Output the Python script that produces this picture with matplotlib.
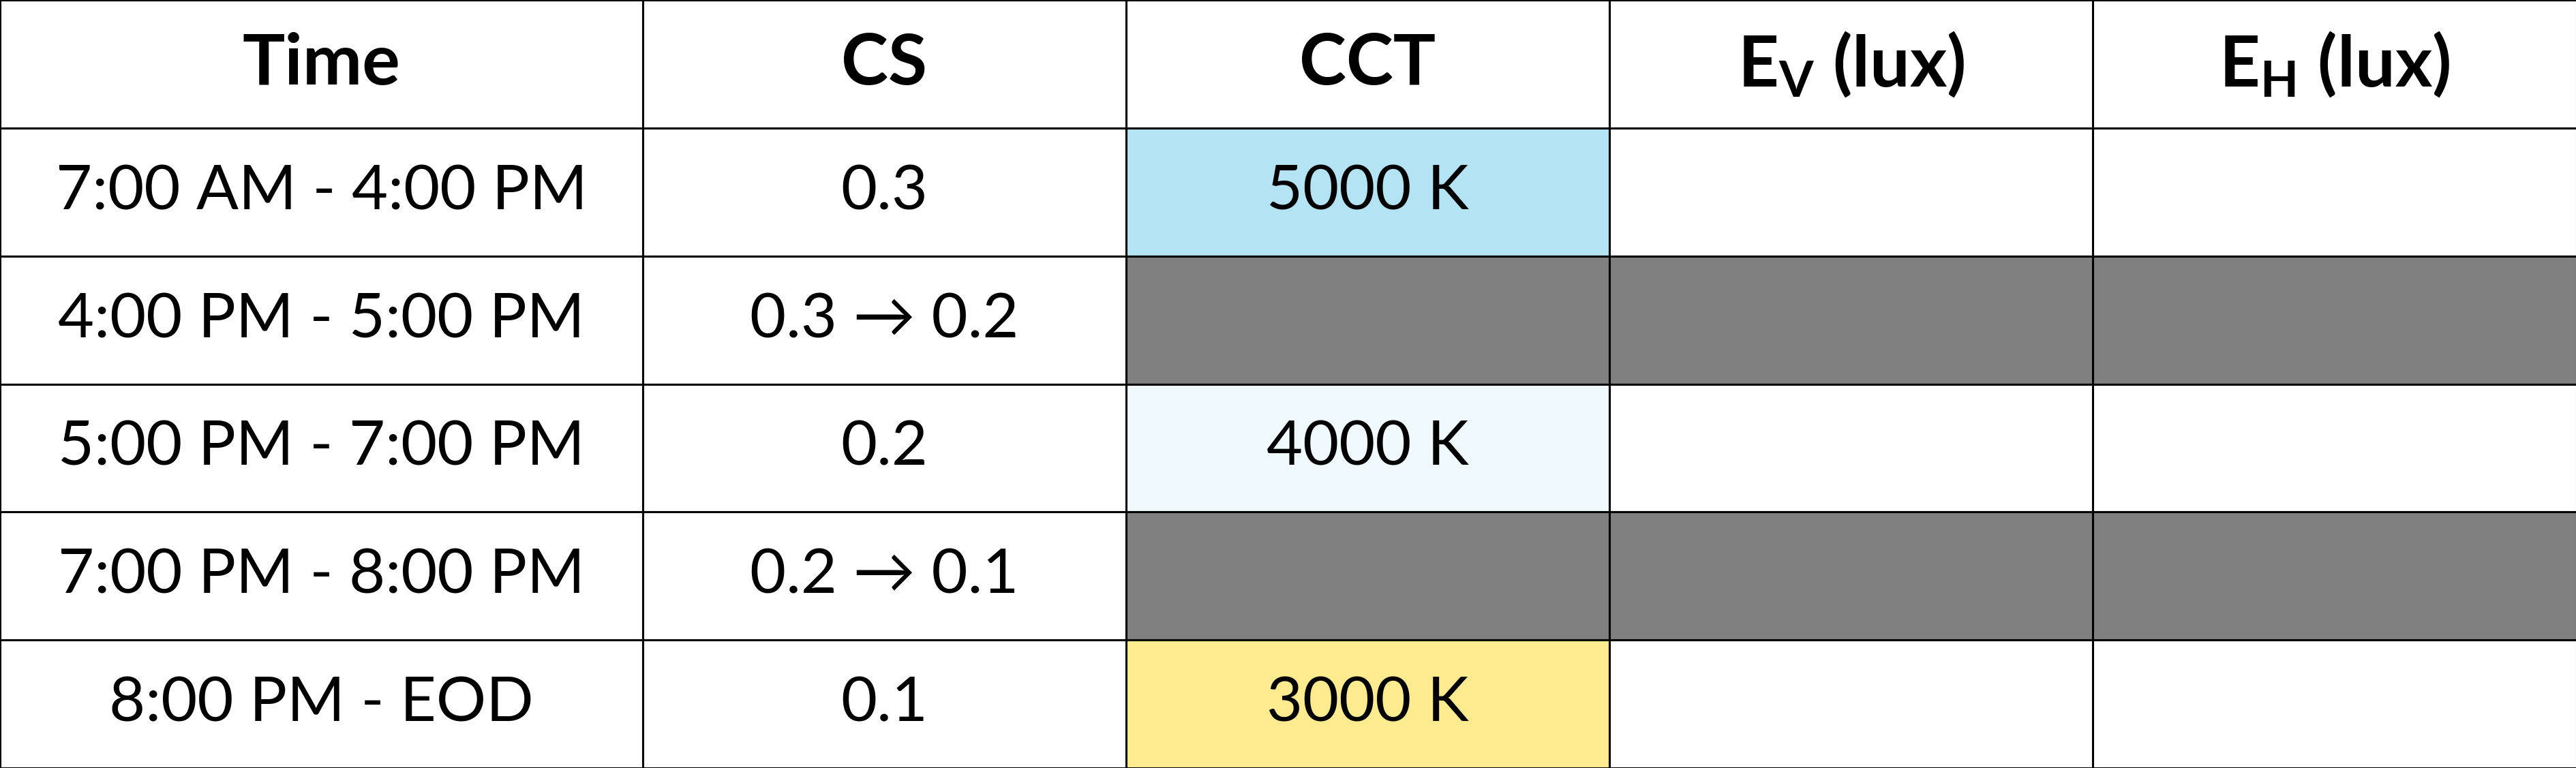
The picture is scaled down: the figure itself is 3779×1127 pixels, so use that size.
import matplotlib
matplotlib.use('Agg')
import matplotlib.pyplot as plt
from matplotlib.patches import Rectangle

plt.rcParams['font.family'] = ['Lato', 'DejaVu Sans']
plt.rcParams['mathtext.fontset'] = 'custom'
plt.rcParams['mathtext.rm'] = 'Lato'
plt.rcParams['mathtext.bf'] = 'Lato:bold'

# table content
headers = ['Time', 'CS', 'CCT', r'$\mathbf{E_V}$ (lux)', r'$\mathbf{E_H}$ (lux)']
times = ['7:00 AM - 4:00 PM', '4:00 PM - 5:00 PM', '5:00 PM - 7:00 PM',
         '7:00 PM - 8:00 PM', '8:00 PM - EOD']
cs_values = ['0.3', '0.3 \u2192 0.2', '0.2', '0.2 \u2192 0.1', '0.1']
cct_values = ['5000 K', '', '4000 K', '', '3000 K']
ev_values = ['', '', '', '', '']
eh_values = ['', '', '', '', '']
transition = [False, True, False, True, False]
cct_colors = ['#b4e3f3', '#808080', '#f0f9fd', '#808080', '#ffeb8f']

GRAY = '#808080'
W, H = 3780, 1127
col_widths = [943, 709, 709, 709, 710]
row_h = H / 6
HEAD_FONT = 75
BODY_FONT = 66

fig = plt.figure(figsize=(W / 100, H / 100), dpi=100)
ax = fig.add_axes([0, 0, 1, 1])
ax.set_xlim(0, W)
ax.set_ylim(H, 0)
ax.axis('off')

col_x = [sum(col_widths[:i]) for i in range(len(col_widths))]
columns = [times, cs_values, cct_values, ev_values, eh_values]

# header row
for c, label in enumerate(headers):
    ax.add_patch(Rectangle((col_x[c], 0), col_widths[c], row_h,
                           facecolor='white', edgecolor='black', linewidth=2.2))
    ax.text(col_x[c] + col_widths[c] / 2, row_h / 2, label, ha='center', va='center',
            fontsize=HEAD_FONT, fontweight='bold')

# body rows
for r in range(len(times)):
    y0 = (r + 1) * row_h
    for c in range(len(columns)):
        if c == 2:
            fc = cct_colors[r]
        elif c > 2 and transition[r]:
            fc = GRAY
        else:
            fc = 'white'
        ax.add_patch(Rectangle((col_x[c], y0), col_widths[c], row_h,
                               facecolor=fc, edgecolor='black', linewidth=2.2))
        txt = columns[c][r]
        if txt:
            ax.text(col_x[c] + col_widths[c] / 2, y0 + row_h / 2, txt,
                    ha='center', va='center', fontsize=BODY_FONT)

fig.savefig('out.png', dpi=100)
